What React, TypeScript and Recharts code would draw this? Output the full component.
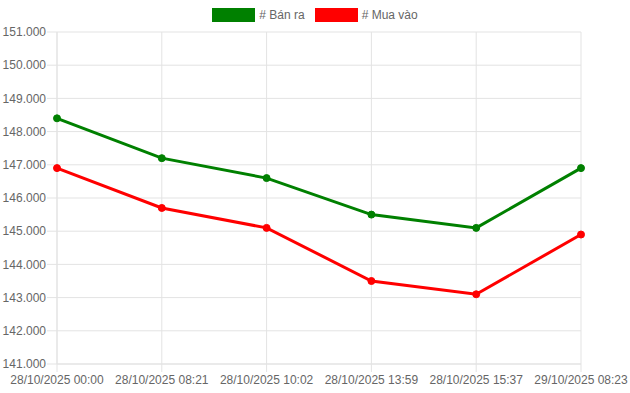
import React from 'react';
import { LineChart, Line, XAxis, YAxis, CartesianGrid, Legend } from 'recharts';

const categories = [
  '28/10/2025 00:00',
  '28/10/2025 08:21',
  '28/10/2025 10:02',
  '28/10/2025 13:59',
  '28/10/2025 15:37',
  '29/10/2025 08:23',
];
const banRa = [148400, 147200, 146600, 145500, 145100, 146900];
const muaVao = [146900, 145700, 145100, 143500, 143100, 144900];
const yTicks = [141000, 142000, 143000, 144000, 145000, 146000, 147000, 148000, 149000, 150000, 151000];

const seriesInfo = [
  { key: 'ban', name: '# Bán ra', color: '#008000' },
  { key: 'mua', name: '# Mua vào', color: '#ff0000' },
];

const data = categories.map((c, i) => ({ cat: c, ban: banRa[i], mua: muaVao[i] }));

const fmt = (v: number) => {
  const s = Math.round(v).toString();
  return s.replace(/\B(?=(\d{3})+(?!\d))/g, '.');
};

const FONT = '"Liberation Sans", Arial, Helvetica, sans-serif';
const GRID = '#e3e3e3';

const LegendContent = () => (
  <div style={{ height: 16, display: 'flex', justifyContent: 'center', alignItems: 'center', fontFamily: FONT, fontSize: 12, color: '#666' }}>
    {seriesInfo.map((s, i) => (
      <div key={s.key} style={{ display: 'flex', alignItems: 'center', marginLeft: i === 0 ? 0 : 10 }}>
        <div style={{ width: 41, height: 12, background: s.color, border: `1.5px solid ${s.color}`, marginRight: 4 }} />
        <span>{s.name}</span>
      </div>
    ))}
  </div>
);

export default function App() {
  return (
    <div style={{ position: 'absolute', left: 0, top: 0, width: 630, height: 393, background: '#fff' }}>
      <LineChart width={630} height={393} data={data} margin={{ top: 16, right: 49, bottom: 0, left: 0 }}>
        <CartesianGrid stroke={GRID} strokeWidth={1} />
        <XAxis
          dataKey="cat"
          stroke={GRID}
          tickSize={8}
          tickMargin={3}
          height={29}
          interval={0}
          tick={{ fill: '#666', fontSize: 12, fontFamily: FONT }}
          tickLine={{ stroke: GRID }}
        />
        <YAxis
          domain={[141000, 151000]}
          ticks={yTicks}
          tickFormatter={fmt}
          width={57}
          stroke={GRID}
          tickSize={10}
          tickMargin={1}
          interval={0}
          tick={{ fill: '#666', fontSize: 12, fontFamily: FONT }}
          tickLine={{ stroke: GRID }}
        />
        <Legend verticalAlign="top" height={16} content={<LegendContent />} wrapperStyle={{ top: 7, left: 0, width: 630, height: 16 }} />
        {seriesInfo.map((s) => (
          <Line
            key={s.key}
            type="linear"
            dataKey={s.key}
            name={s.name}
            stroke={s.color}
            strokeWidth={3}
            dot={{ r: 3.5, fill: s.color, stroke: s.color, strokeWidth: 1 }}
            isAnimationActive={false}
          />
        ))}
      </LineChart>
    </div>
  );
}
